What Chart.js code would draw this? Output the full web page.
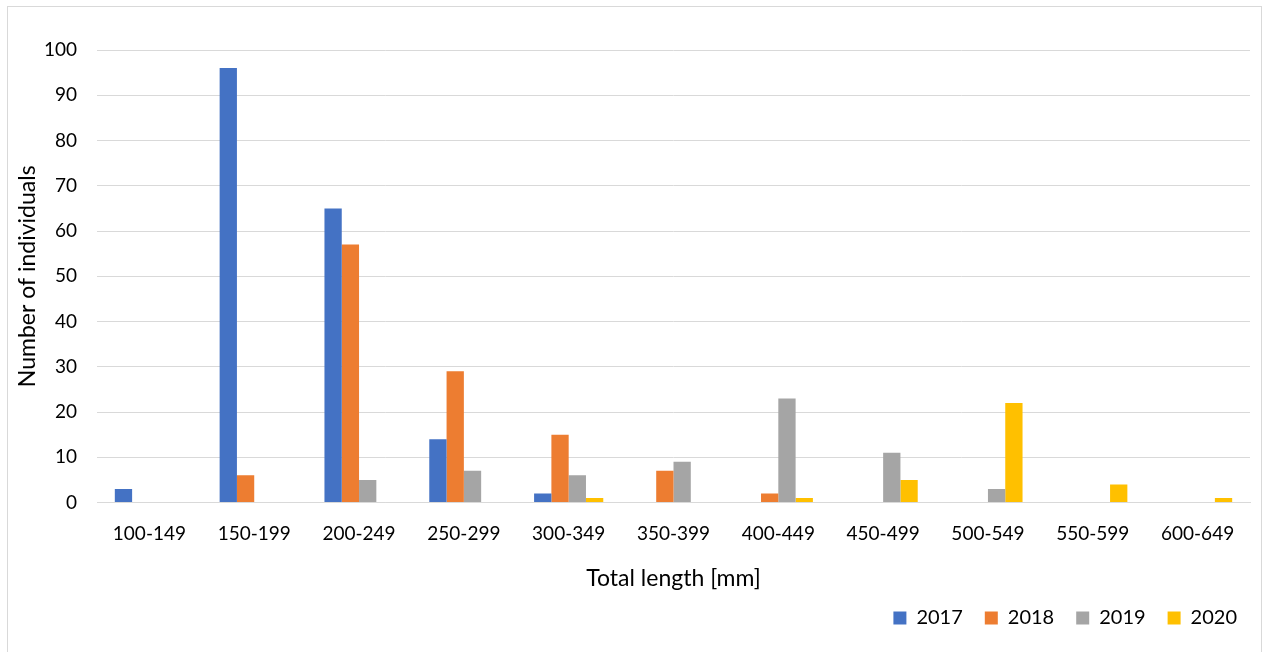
<!DOCTYPE html>
<html>
<head>
<meta charset="utf-8">
<script src="https://cdn.jsdelivr.net/npm/chart.js@4"></script>
<style>
html,body{margin:0;padding:0;background:#fff;width:1268px;height:652px;overflow:hidden;}
#frame{position:absolute;left:7px;top:6px;width:1255px;height:700px;border:1px solid #d9d9d9;box-sizing:border-box;}
#wrap{position:absolute;left:0;top:0;width:1268px;height:652px;}
</style>
</head>
<body>
<div id="frame"></div>
<div id="wrap"><canvas id="c" width="1268" height="652"></canvas></div>
<script>
const categories = ["100-149","150-199","200-249","250-299","300-349","350-399","400-449","450-499","500-549","550-599","600-649"];
const seriesNames = ["2017","2018","2019","2020"];
const v2017 = [3,96,65,14,2,0,0,0,0,0,0];
const v2018 = [0,6,57,29,15,7,2,0,0,0,0];
const v2019 = [0,0,5,7,6,9,23,11,3,0,0];
const v2020 = [0,0,0,0,1,0,1,5,22,4,1];
const colors = ["#4472C4","#ED7D31","#A5A5A5","#FFC000"];
const yTicks = [0,10,20,30,40,50,60,70,80,90,100];
const font = "Lato, 'Open Sans', sans-serif";

const vals = [v2017,v2018,v2019,v2020];
new Chart(document.getElementById('c'), {
  type: 'bar',
  data: {
    labels: categories,
    datasets: seriesNames.map((n,i)=>({
      label: n,
      data: vals[i],
      backgroundColor: colors[i],
      borderWidth: 0,
      barPercentage: 1.0,
      categoryPercentage: 0.66
    }))
  },
  options: {
    responsive: false,
    animation: false,
    devicePixelRatio: 1,
    layout: { padding: { left: 10, right: 9, top: 50, bottom: 14 } },
    plugins: {
      legend: {
        position: 'bottom',
        align: 'end',
        labels: {
          boxWidth: 13, boxHeight: 13, color: '#000',
          font: { family: font, size: 20 },
          padding: 22
        }
      },
      tooltip: { enabled: false }
    },
    scales: {
      x: {
        afterFit: (s) => { s.height = 83.5; },
        grid: { display: false, drawTicks: false },
        border: { display: true, color: '#d9d9d9', width: 1 },
        ticks: { color: '#000', font: { family: font, size: 19 }, padding: 20, maxRotation: 0 },
        title: { display: true, text: 'Total length [mm]', color: '#000', font: { family: font, size: 23 }, padding: { top: 0, bottom: -6 } }
      },
      y: {
        min: 0, max: 100,
        afterFit: (s) => { s.width = 87; },
        afterBuildTicks: (s) => { s.ticks = yTicks.map(v=>({value:v})); },
        grid: { color: '#d9d9d9', drawTicks: false, lineWidth: 1 },
        border: { display: false },
        ticks: { color: '#000', font: { family: font, size: 19 }, padding: 20 },
        title: { display: true, text: 'Number of individuals', color: '#000', font: { family: font, size: 23 }, padding: { top: 4, bottom: 0 } }
      },
      yR: {
        position: 'right',
        min: 0, max: 100,
        afterFit: (s) => { s.width = 9; },
        grid: { display: false, drawTicks: false },
        border: { display: false },
        ticks: { display: false },
        title: { display: false }
      }
    }
  }
});
</script>
</body>
</html>
